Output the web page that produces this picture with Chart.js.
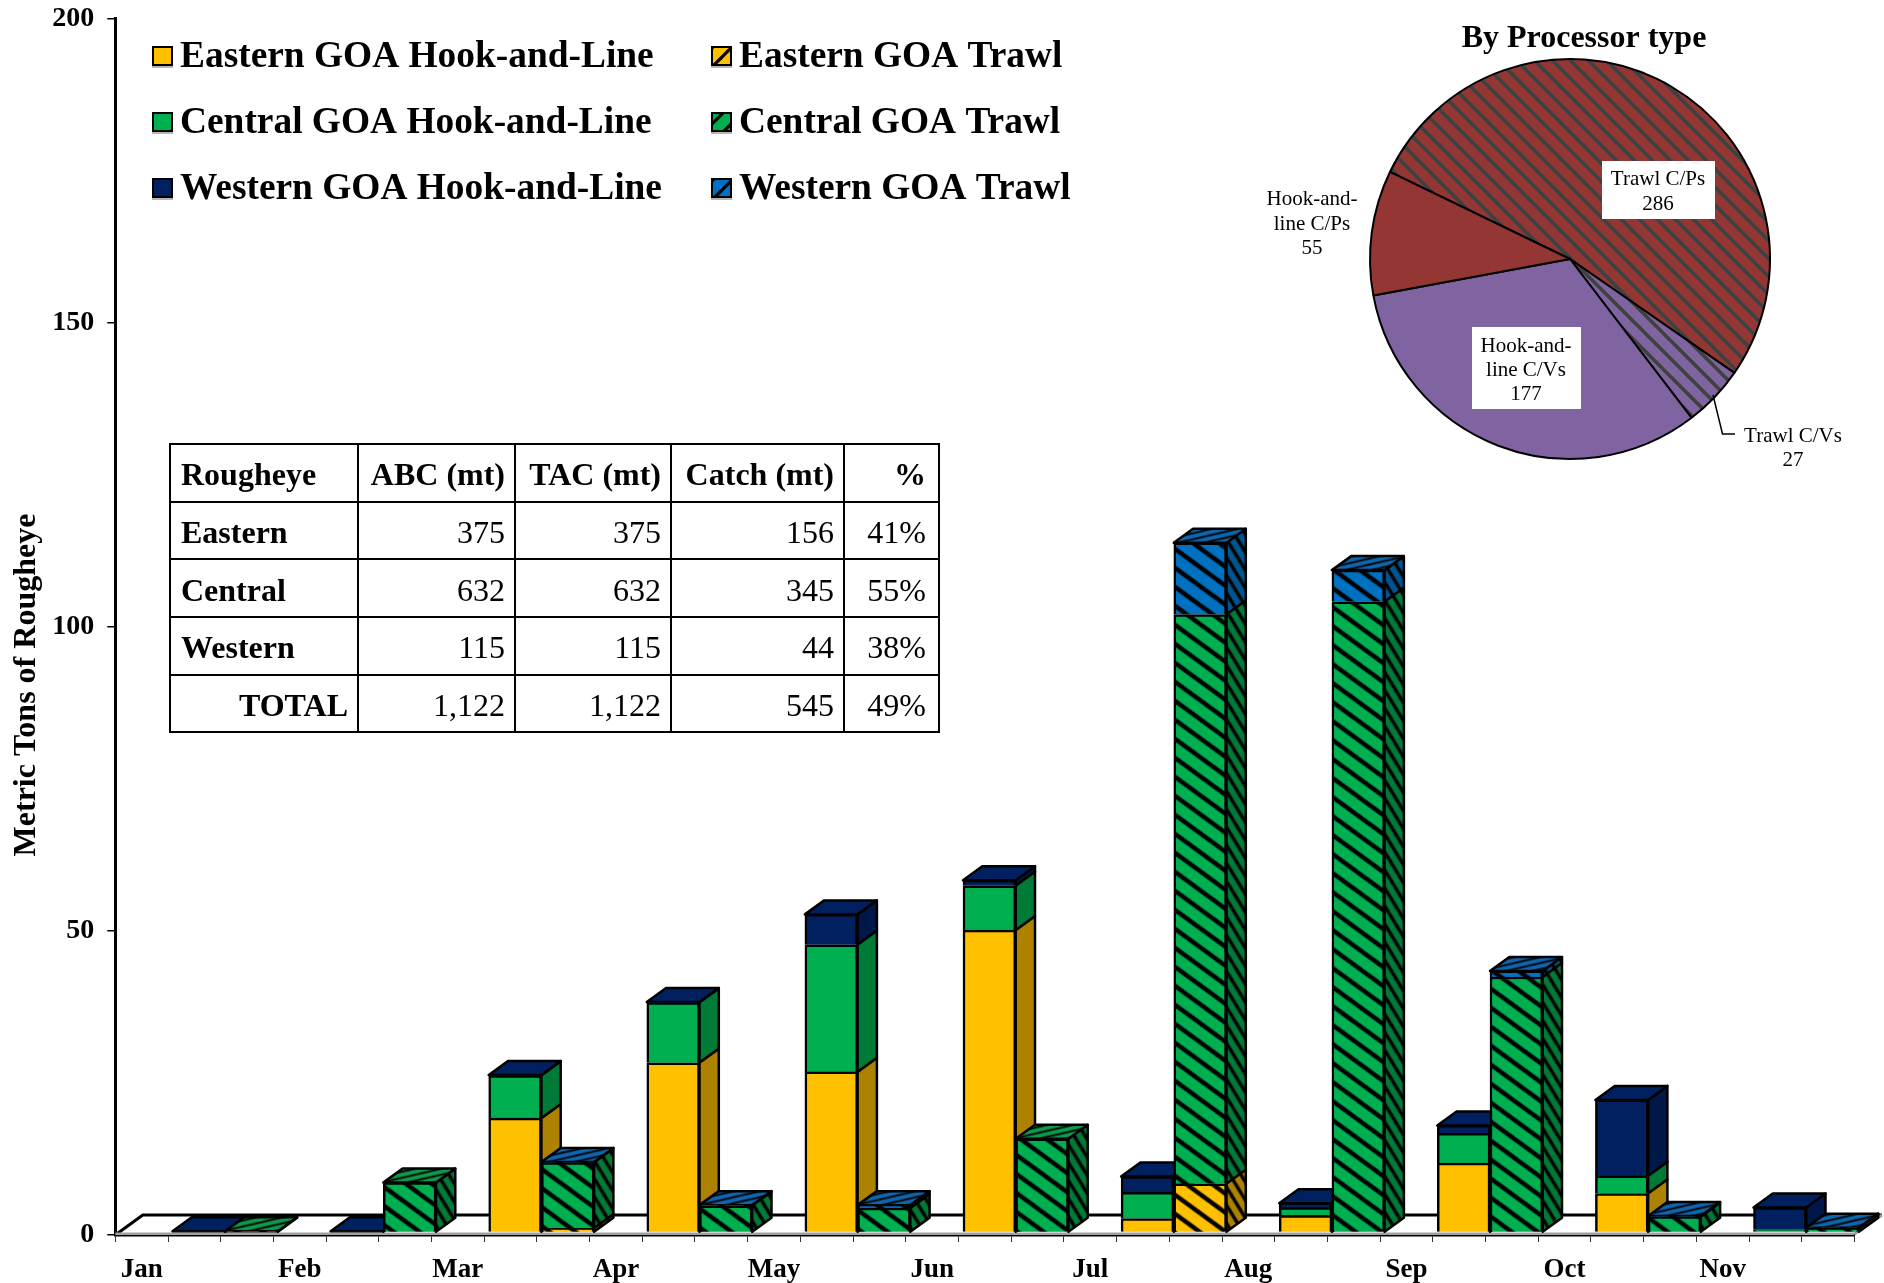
<!DOCTYPE html>
<html>
<head>
<meta charset="utf-8">
<title>Rougheye catch</title>
<script src="https://cdn.jsdelivr.net/npm/chart.js@4/dist/chart.umd.min.js"></script>
<style>
  html, body { margin: 0; padding: 0; background: #fff; }
  #wrap { position: relative; width: 1884px; height: 1283px; overflow: hidden; }
  #mainChart { position: absolute; left: 0; top: 0; }
  #pieChart { position: absolute; left: 1240px; top: 0; }
  #catchTable {
    position: absolute; left: 169px; top: 443px; width: 769px;
    border-collapse: collapse; table-layout: fixed;
    font: 32px "Liberation Serif", "Times New Roman", serif; color: #000;
  }
  #catchTable td { border: 2.5px solid #000; height: 55px; padding: 4px 9px 0 10px; text-align: right; box-sizing: border-box; }
  #catchTable tr:first-child td, #catchTable td:first-child { font-weight: bold; }
  #catchTable td.left { text-align: left; }
  #catchTable td:last-child { padding-right: 12px; }
</style>
</head>
<body>
<div id="wrap">
  <canvas id="mainChart" width="1884" height="1283"></canvas>
  <canvas id="pieChart" width="644" height="480"></canvas>
  <table id="catchTable">
    <colgroup><col style="width:188px"><col style="width:157px"><col style="width:156px"><col style="width:173px"><col style="width:95px"></colgroup>
    <tbody id="catchBody"></tbody>
  </table>
</div>
<script>
// Catch by month, metric tons (null = no bar segment for that month)
const months = ['Jan', 'Feb', 'Mar', 'Apr', 'May', 'Jun', 'Jul', 'Aug', 'Sep', 'Oct', 'Nov'];
const easternHook = [null, null, 18.8, 27.9, 26.4, 49.7, 2.3, 2.8, 11.4, 6.4, null];
const centralHook = [null, null, 7.0, 9.9, 20.9, 7.3, 4.3, 1.3, 4.9, 2.9, 0.5];
const westernHook = [0.2, 0.2, 0.1, 0.1, 5.0, 0.9, 2.6, 0.7, 1.3, 12.5, 3.6];
const easternTrawl = [null, null, 0.7, null, null, null, 8.0, null, null, null, null];
const centralTrawl = [0.2, 8.2, 10.8, 4.4, 4.0, 15.4, 93.6, 103.7, 42.0, 2.6, 0.7];
const westernTrawl = [null, null, 0.1, 0.1, 0.5, null, 11.8, 5.2, 1.0, 0.1, 0.1];
const yTicks = [0, 50, 100, 150, 200];

// Pie
const pieNames = ['Trawl C/Ps', 'Trawl C/Vs', 'Hook-and-line C/Vs', 'Hook-and-line C/Ps'];
const pieValues = [286, 27, 177, 55];

// Table
const tableHeader = ['Rougheye', 'ABC (mt)', 'TAC (mt)', 'Catch (mt)', '%'];
const tableRegions = ['Eastern', 'Central', 'Western', 'TOTAL'];
const tableAbc = ['375', '632', '115', '1,122'];
const tableTac = ['375', '632', '115', '1,122'];
const tableCatch = ['156', '345', '44', '545'];
const tablePct = ['41%', '55%', '38%', '49%'];

const SERIF = '"Liberation Serif", "Times New Roman", serif';

// Fake 3D offsets, px
const FLOOR = { x: 27.5, y: 20 };
const DEPTH = { x: 19.3, y: 14 };
const SHIFT = { x: 4.5, y: -2.5 };

const scratch = document.createElement('canvas').getContext('2d');

function hatch(bg, w, h, lineWidth, rising, stripe) {
  const tile = document.createElement('canvas');
  tile.width = w;
  tile.height = h;
  const c = tile.getContext('2d');
  c.fillStyle = bg;
  c.fillRect(0, 0, w, h);
  c.strokeStyle = stripe || '#000';
  c.lineWidth = lineWidth;
  // run the line past the tile corners so the repeat has no seam
  for (const off of [-w, 0, w]) {
    c.beginPath();
    c.moveTo(off - w, rising ? 2 * h : -h);
    c.lineTo(off + 2 * w, rising ? -h : 2 * h);
    c.stroke();
  }
  return scratch.createPattern(tile, 'repeat');
}

const YELLOW = ['#FFC000', '#AD8200', '#FFC000'];
const GREEN = ['#00B050', '#007A37', '#0E9A4C'];
const NAVY = ['#002060', '#00174A', '#002060'];
const BLUE = ['#0070C0', '#005590', '#0F66AE'];

function solidFaces(c) {
  return { front: c[0], side: c[1], top: c[2], key: c[0] };
}
function hatchedFaces(c) {
  return {
    front: hatch(c[0], 26, 19, 4.4, false),
    side: hatch(c[1], 11, 18, 3.4, false),
    top: hatch(c[2], 26, 6, 1.8, true),
    key: hatch(c[0], 19, 19, 3.2, true),
  };
}

const faces = [
  solidFaces(YELLOW), solidFaces(GREEN), solidFaces(NAVY),
  hatchedFaces(YELLOW), hatchedFaces(GREEN), hatchedFaces(BLUE),
];

// Each month takes 3 slots on the axis: label slot, hook-and-line bar, trawl bar
const slotLabels = months.flatMap((m) => [m, '', '']);
const hookSlots = (arr) => arr.flatMap((v) => [null, v, null]);
const trawlSlots = (arr) => arr.flatMap((v) => [null, null, v]);

const datasets = [
  { label: 'Eastern GOA Hook-and-Line', data: hookSlots(easternHook), order: 1 },
  { label: 'Central GOA Hook-and-Line', data: hookSlots(centralHook), order: 1 },
  { label: 'Western GOA Hook-and-Line', data: hookSlots(westernHook), order: 1 },
  { label: 'Eastern GOA Trawl', data: trawlSlots(easternTrawl), order: 0 },
  { label: 'Central GOA Trawl', data: trawlSlots(centralTrawl), order: 0 },
  { label: 'Western GOA Trawl', data: trawlSlots(westernTrawl), order: 0 },
].map((d, i) => ({
  ...d,
  backgroundColor: faces[i].front,
  borderColor: '#000',
  borderWidth: 2.5,
  barPercentage: 1,
  categoryPercentage: 1,
  clip: false,
}));

function face(ctx, points, fill) {
  ctx.beginPath();
  points.forEach((p, i) => (i ? ctx.lineTo(p[0], p[1]) : ctx.moveTo(p[0], p[1])));
  ctx.closePath();
  ctx.fillStyle = fill;
  ctx.fill();
  ctx.stroke();
}

// Side and top of every bar, drawn just before the bar itself
const boxFaces = {
  id: 'boxFaces',
  beforeDatasetDraw(chart, args) {
    const ctx = chart.ctx;
    const i = args.index;
    ctx.save();
    ctx.translate(SHIFT.x, SHIFT.y);
    ctx.strokeStyle = '#000';
    ctx.lineWidth = 2.5;
    ctx.lineJoin = 'round';
    args.meta.data.forEach((bar, slot) => {
      if (datasets[i].data[slot] == null) return;
      const right = bar.x + bar.width / 2;
      const left = bar.x - bar.width / 2;
      face(ctx, [[right, bar.base], [right, bar.y], [right + DEPTH.x, bar.y - DEPTH.y], [right + DEPTH.x, bar.base - DEPTH.y]], faces[i].side);
      const isTop = datasets.every((d, k) => k <= i || d.data[slot] == null);
      if (isTop) {
        face(ctx, [[left, bar.y], [left + DEPTH.x, bar.y - DEPTH.y], [right + DEPTH.x, bar.y - DEPTH.y], [right, bar.y]], faces[i].top);
      }
    });
  },
  afterDatasetDraw(chart) {
    chart.ctx.restore();
  },
};

// Floor of the 3D plot
const floor = {
  id: 'floor',
  beforeDatasetsDraw(chart) {
    const ctx = chart.ctx;
    const { left, right, bottom } = chart.chartArea;
    ctx.save();
    ctx.strokeStyle = '#000';
    ctx.lineWidth = 3;
    ctx.beginPath();
    ctx.moveTo(left, bottom);
    ctx.lineTo(left + FLOOR.x, bottom - FLOOR.y);
    ctx.lineTo(right + FLOOR.x, bottom - FLOOR.y);
    ctx.stroke();
    ctx.strokeStyle = '#9a9a9a';
    ctx.beginPath();
    ctx.moveTo(right, bottom - 1);
    ctx.lineTo(right + FLOOR.x, bottom - FLOOR.y);
    ctx.stroke();
    ctx.fillStyle = '#a0a0a0';
    ctx.fillRect(left, bottom - 2.5, right - left, 2.5);
    ctx.restore();
  },
};

// Legend, axis title
const LEGEND_COLS = [152, 711];
const LEGEND_ROWS = [56, 122, 188];
const annotations = {
  id: 'annotations',
  afterDraw(chart) {
    const ctx = chart.ctx;
    ctx.save();
    ctx.fillStyle = '#000';
    ctx.font = 'bold 32px ' + SERIF;
    ctx.textAlign = 'center';
    ctx.textBaseline = 'middle';
    ctx.translate(27, 685);
    ctx.rotate(-Math.PI / 2);
    ctx.fillText('Metric Tons of Rougheye', 0, 0);
    ctx.restore();

    ctx.save();
    ctx.font = 'bold 37.4px ' + SERIF;
    ctx.textBaseline = 'middle';
    datasets.forEach((d, i) => {
      const x = LEGEND_COLS[i < 3 ? 0 : 1];
      const y = LEGEND_ROWS[i % 3];
      ctx.fillStyle = '#b5b5b5';
      ctx.fillRect(x, y + 9, 21, 3);
      ctx.fillStyle = faces[i].key;
      ctx.strokeStyle = '#000';
      ctx.lineWidth = 2;
      ctx.fillRect(x + 1, y - 9, 19, 18);
      ctx.strokeRect(x + 1, y - 9, 19, 18);
      ctx.fillStyle = '#000';
      ctx.fillText(d.label, x + 28, y + 1.5);
    });
    ctx.restore();
  },
};

new Chart(document.getElementById('mainChart'), {
  type: 'bar',
  data: { labels: slotLabels, datasets },
  plugins: [floor, boxFaces, annotations],
  options: {
    responsive: false,
    animation: false,
    layout: { padding: { left: 0, right: 29.6, top: 18.5, bottom: 0 } },
    plugins: { legend: { display: false }, tooltip: { enabled: false } },
    scales: {
      x: {
        stacked: true,
        afterFit: (s) => { s.height = 48; s.paddingLeft = 0; s.paddingRight = 0; },
        border: { color: '#000', width: 2.5 },
        grid: { drawOnChartArea: false, color: '#333', tickLength: 7, lineWidth: 1 },
        ticks: {
          autoSkip: false, maxRotation: 0, minRotation: 0, padding: 12, color: '#000',
          font: { family: SERIF, size: 27, weight: 'bold' },
        },
      },
      y: {
        stacked: true,
        min: yTicks[0],
        max: yTicks[yTicks.length - 1],
        afterFit: (s) => { s.width = 115.3; s.paddingTop = 0; s.paddingBottom = 0; },
        afterBuildTicks: (s) => { s.ticks = yTicks.map((value) => ({ value })); },
        border: { color: '#000', width: 3 },
        grid: { drawOnChartArea: false, color: '#000', tickLength: 8, lineWidth: 1.5 },
        ticks: { padding: 13, color: '#000', font: { family: SERIF, size: 28, weight: 'bold' } },
      },
    },
  },
});

// ---- Pie ----
const PIE_LEFT = 1240;
const pieText = [
  { lines: ['Trawl C/Ps', pieValues[0]], x: 1658, ys: [179, 204], box: [1602, 161, 113, 58] },
  { lines: ['Trawl C/Vs', pieValues[1]], x: 1793, ys: [436, 460] },
  { lines: ['Hook-and-', 'line C/Vs', pieValues[2]], x: 1526, ys: [346, 370, 394], box: [1472, 327, 109, 82] },
  { lines: ['Hook-and-', 'line C/Ps', pieValues[3]], x: 1312, ys: [199, 224, 248] },
];

const pieLabels = {
  id: 'pieLabels',
  afterDraw(chart) {
    const ctx = chart.ctx;
    ctx.save();
    ctx.translate(-PIE_LEFT, 0);
    ctx.strokeStyle = '#000';
    ctx.lineWidth = 1.5;
    ctx.beginPath();
    ctx.moveTo(1713, 395);
    ctx.lineTo(1722.5, 434);
    ctx.lineTo(1735, 434);
    ctx.stroke();
    ctx.textAlign = 'center';
    ctx.textBaseline = 'middle';
    pieText.forEach((t) => {
      if (t.box) {
        ctx.fillStyle = '#fff';
        ctx.fillRect(t.box[0], t.box[1], t.box[2], t.box[3]);
      }
      ctx.fillStyle = '#000';
      ctx.font = '21px ' + SERIF;
      t.lines.forEach((line, i) => ctx.fillText(String(line), t.x, t.ys[i]));
    });
    ctx.font = 'bold 32px ' + SERIF;
    ctx.fillText('By Processor type', 1584, 38.5);
    ctx.restore();
  },
};

const RED = '#943634';
const PURPLE = '#8064A2';
new Chart(document.getElementById('pieChart'), {
  type: 'pie',
  data: {
    labels: pieNames,
    datasets: [{
      data: pieValues,
      backgroundColor: [hatch(RED, 18, 18, 3.6, false, '#404040'), hatch(PURPLE, 18, 18, 3.6, false, '#404040'), PURPLE, RED],
      borderColor: '#000',
      borderWidth: 2,
    }],
  },
  plugins: [pieLabels],
  options: {
    responsive: false,
    animation: false,
    rotation: -64.2,
    layout: { padding: { left: 129, right: 113, top: 58, bottom: 20 } },
    plugins: { legend: { display: false }, tooltip: { enabled: false } },
  },
});

// ---- Table ----
const body = document.getElementById('catchBody');
const tableRows = [tableHeader].concat(tableRegions.map((r, i) => [r, tableAbc[i], tableTac[i], tableCatch[i], tablePct[i]]));
tableRows.forEach((row) => {
  const tr = document.createElement('tr');
  row.forEach((cell, c) => {
    const td = document.createElement('td');
    td.textContent = cell;
    if (c === 0 && cell !== 'TOTAL') td.className = 'left';
    tr.appendChild(td);
  });
  tr.style.height = '57.7px';
  body.appendChild(tr);
});
</script>
</body>
</html>
